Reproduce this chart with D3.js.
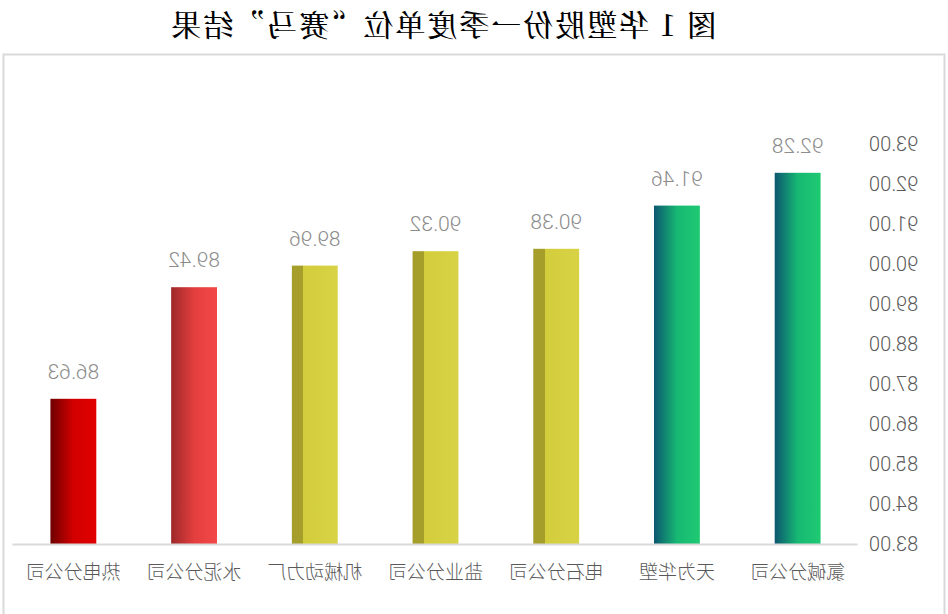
<!DOCTYPE html>
<html>
<head>
	<meta http-equiv="Content-Type" content="text/html;charset=UTF-8">
	<title>华塑股份一季度单位赛马结果</title>
	<style>
		body { margin: 0; background: #fff; }
		svg { display: block; }
	</style>
</head>
<body>
	<div class="chart"></div>

	<script src="https://d3js.org/d3.v7.min.js"></script>
	<script>

		/* data */
		var titleText = "图 1  华塑股份一季度单位\u201C赛马\u201D结果";
		var categories = ["氯碱分公司", "天为华塑", "电石分公司", "盐业分公司", "机械动力厂", "水泥分公司", "热电分公司"];
		var values = [92.28, 91.46, 90.38, 90.32, 89.96, 89.42, 86.63];
		var yTicks = [83, 84, 85, 86, 87, 88, 89, 90, 91, 92, 93];

		/* one fill per bar (gradient stops) */
		var barFills = [
			[[0, "#1fca72"], [0.5, "#17b873"], [1, "#0c5670"]],
			[[0, "#1fca72"], [0.5, "#17b873"], [1, "#0c5670"]],
			[[0, "#d8d346"], [0.75, "#d3cd3c"], [0.75, "#a59e2b"], [1, "#a59e2b"]],
			[[0, "#d8d346"], [0.75, "#d3cd3c"], [0.75, "#a59e2b"], [1, "#a59e2b"]],
			[[0, "#d8d346"], [0.75, "#d3cd3c"], [0.75, "#a59e2b"], [1, "#a59e2b"]],
			[[0, "#f44848"], [0.5, "#e43e3e"], [1, "#9c2929"]],
			[[0, "#e10000"], [0.5, "#d20000"], [1, "#6e0000"]]
		];

		var w = 948;
		var h = 614;

		var SVG = d3.select("div.chart").append("svg")
					.attr("width", w)
					.attr("height", h);

		var defs = SVG.append("defs");
		barFills.forEach(function(stops, i){
			var g = defs.append("linearGradient")
						.attr("id", "fill" + i)
						.attr("x1", 0).attr("x2", 1)
						.attr("y1", 0).attr("y2", 0);
			stops.forEach(function(s){
				g.append("stop").attr("offset", s[0]).attr("stop-color", s[1]);
			});
		});

		/* the reference is a mirror image, so draw normally and flip */
		var root = SVG.append("g")
					.attr("transform", "translate(" + w + ",0) scale(-1,1)");

		/* frame */
		root.append("rect")
			.attr("x", 3.5)
			.attr("y", 54.5)
			.attr("width", 941)
			.attr("height", 600)
			.attr("fill", "none")
			.attr("stroke", "#d9d9d9")
			.attr("stroke-width", 2);

		/* title */
		root.append("text")
			.attr("x", 505)
			.attr("y", 23)
			.attr("text-anchor", "middle")
			.attr("dominant-baseline", "central")
			.attr("font-family", "'Noto Serif CJK SC', 'Noto Sans CJK SC', sans-serif")
			.attr("font-weight", 500)
			.attr("font-size", "30px")
			.attr("letter-spacing", "2px")
			.attr("fill", "#000")
			.text(titleText);

		var xSCALE = d3.scaleBand()
						.domain(categories)
						.range([90, 935])
						.paddingInner(0.62)
						.paddingOuter(0.31);

		var ySCALE = d3.scaleLinear()
						.domain([83, 93])
						.range([544, 144]);

		/* bars */
		root.selectAll("rect.bar")
			.data(values)
			.enter()
			.append("rect")
			.attr("class", "bar")
			.attr("x", function(d, i){ return xSCALE(categories[i]); })
			.attr("y", function(d){ return ySCALE(d); })
			.attr("width", xSCALE.bandwidth())
			.attr("height", function(d){ return ySCALE(83) - ySCALE(d); })
			.attr("fill", function(d, i){ return "url(#fill" + i + ")"; });

		/* value labels */
		root.selectAll("text.val")
			.data(values)
			.enter()
			.append("text")
			.attr("class", "val")
			.attr("x", function(d, i){ return xSCALE(categories[i]) + xSCALE.bandwidth() / 2; })
			.attr("y", function(d){ return ySCALE(d) - 20; })
			.attr("text-anchor", "middle")
			.attr("font-family", "Roboto, sans-serif")
			.attr("font-weight", 300)
			.attr("font-size", "21px")
			.attr("fill", "#8c8c8c")
			.text(function(d){ return d.toFixed(2); });

		/* x axis */
		var xAxis = d3.axisBottom(xSCALE).tickSize(0).tickSizeOuter(0);
		var gx = root.append("g")
			.attr("transform", "translate(0," + ySCALE(83) + ")")
			.call(xAxis);
		gx.select(".domain")
			.attr("stroke", "#d9d9d9")
			.attr("stroke-width", 2);
		gx.selectAll("text")
			.attr("y", 28)
			.attr("dy", "0.35em")
			.attr("font-family", "'Noto Sans CJK SC', sans-serif")
			.attr("font-weight", 300)
			.attr("font-size", "19px")
			.attr("fill", "#595959");

		/* y axis */
		var yAxis = d3.axisLeft(ySCALE)
					  .tickValues(yTicks)
					  .tickFormat(d3.format(".2f"))
					  .tickSize(0)
					  .tickPadding(11);
		var gy = root.append("g")
			.attr("transform", "translate(90,0)")
			.call(yAxis);
		gy.select(".domain").remove();
		gy.selectAll("text")
			.attr("font-family", "Roboto, sans-serif")
			.attr("font-weight", 300)
			.attr("font-size", "20px")
			.attr("fill", "#595959");

	</script>
</body>
</html>
